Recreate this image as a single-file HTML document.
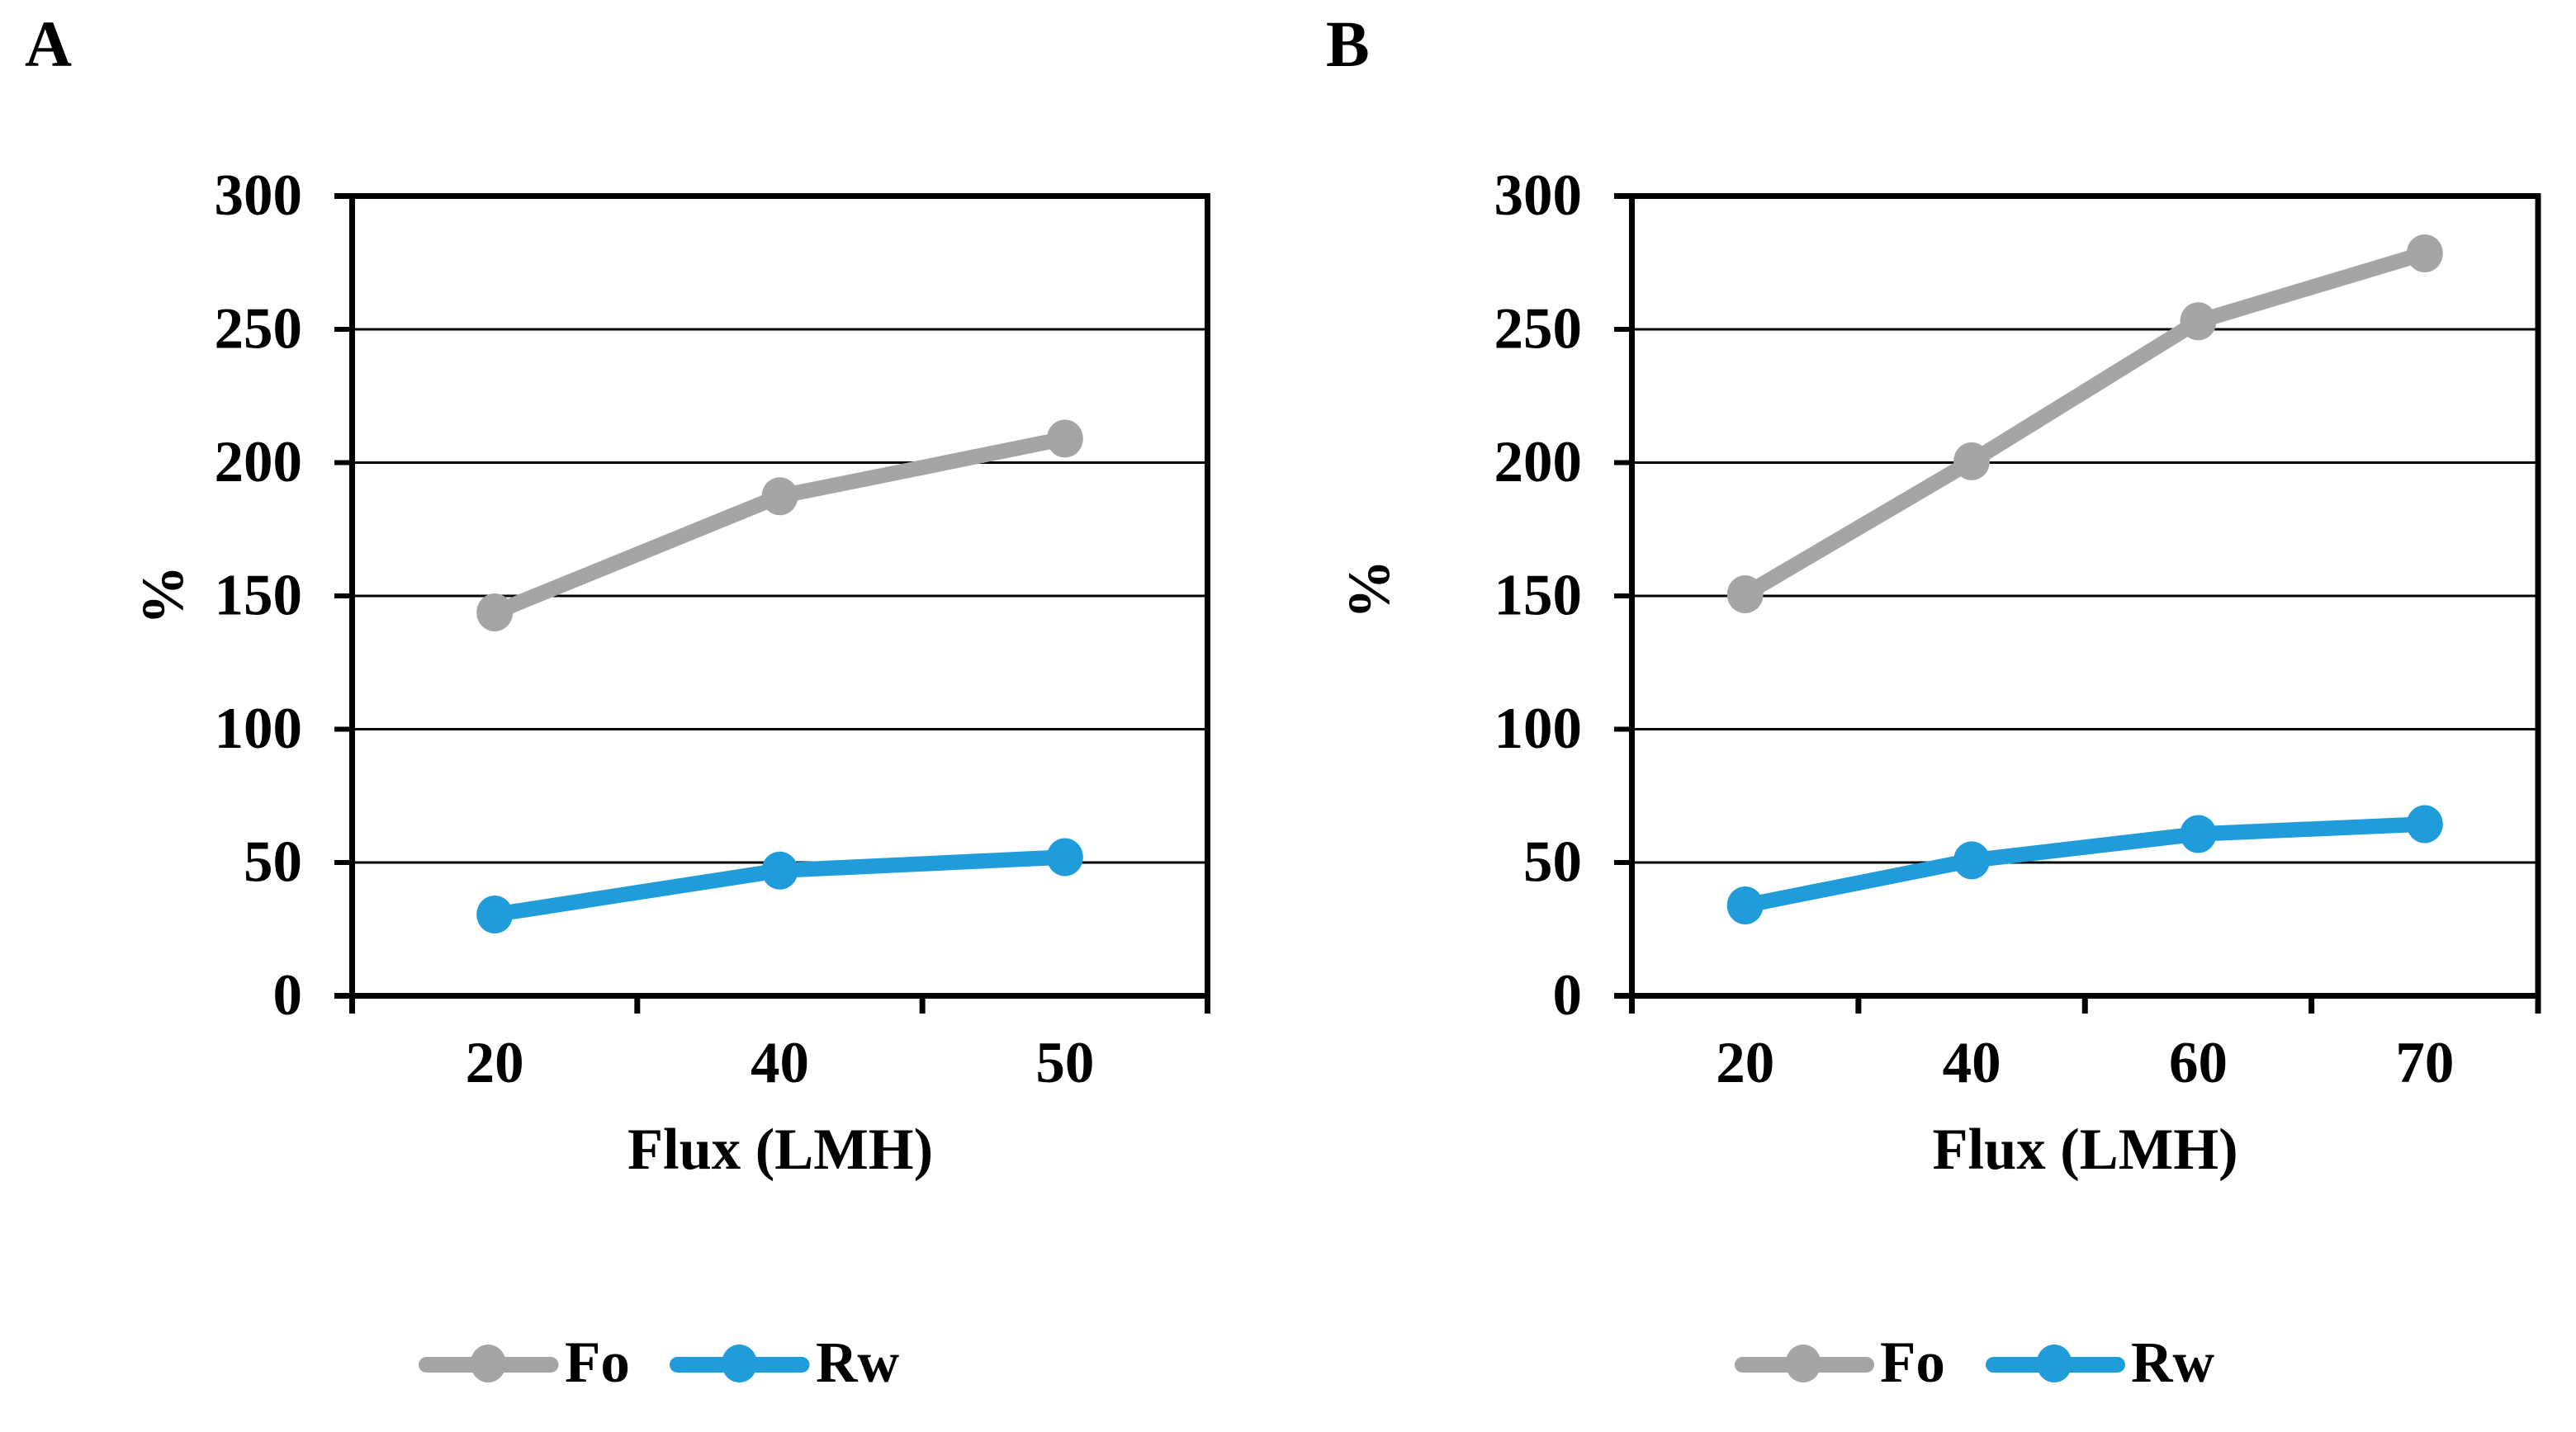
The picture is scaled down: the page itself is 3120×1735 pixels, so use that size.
<!DOCTYPE html>
<html lang="en">
<head>
<meta charset="utf-8">
<title>Fo and Rw versus flux</title>
<style>
html,body{margin:0;padding:0;background:#fff;}
svg{display:block;}
text{font-family:"Liberation Serif",serif;font-weight:bold;fill:#000;}
</style>
</head>
<body>
<svg id="figure" xmlns="http://www.w3.org/2000/svg" width="3120" height="1735" viewBox="0 0 3120 1735">
  <rect x="0" y="0" width="3120" height="1735" fill="#fff"/>
  <text x="30" y="80" font-size="79">A</text>
  <text x="1606" y="80" font-size="79">B</text>

  <g id="panel-a"></g>
  <g id="panel-b"></g>

  <text transform="translate(221 721) rotate(-90)" text-anchor="middle" font-size="72">%</text>
  <text transform="translate(1682 714) rotate(-90)" text-anchor="middle" font-size="72">%</text>
  <text x="945" y="1416" text-anchor="middle" font-size="70.5">Flux (LMH)</text>
  <text x="2525.5" y="1416" text-anchor="middle" font-size="70.5">Flux (LMH)</text>

  <g>
    <g>
      <line x1="516.5" y1="1653.5" x2="667" y2="1653.5" stroke="#a5a5a5" stroke-width="19" stroke-linecap="round"/>
      <ellipse cx="591.3" cy="1652" rx="21.5" ry="23" fill="#a5a5a5"/>
      <text x="684" y="1674" font-size="71">Fo</text>
    </g>
    <g>
      <line x1="820.5" y1="1653.5" x2="971" y2="1653.5" stroke="#1f9cd9" stroke-width="19" stroke-linecap="round"/>
      <ellipse cx="895.5" cy="1652" rx="21.5" ry="23" fill="#1f9cd9"/>
      <text x="988" y="1674" font-size="70">Rw</text>
    </g>
  </g>
  <g>
    <g>
      <line x1="2110.5" y1="1653.5" x2="2260.5" y2="1653.5" stroke="#a5a5a5" stroke-width="19" stroke-linecap="round"/>
      <ellipse cx="2184" cy="1652" rx="21.5" ry="23" fill="#a5a5a5"/>
      <text x="2277" y="1674" font-size="71">Fo</text>
    </g>
    <g>
      <line x1="2414.5" y1="1653.5" x2="2564.5" y2="1653.5" stroke="#1f9cd9" stroke-width="19" stroke-linecap="round"/>
      <ellipse cx="2488" cy="1652" rx="21.5" ry="23" fill="#1f9cd9"/>
      <text x="2581" y="1674" font-size="70">Rw</text>
    </g>
  </g>
</svg>
<script>
const yTickLabels = [0, 50, 100, 150, 200, 250, 300];
const categoriesA = ['20', '40', '50'];
const foValuesA = [143.8, 187.4, 209];
const rwValuesA = [30.5, 47, 52];
const categoriesB = ['20', '40', '60', '70'];
const foValuesB = [150.6, 200.5, 253, 278.5];
const rwValuesB = [33.9, 50.8, 60.7, 64.4];

const SVG_NS = 'http://www.w3.org/2000/svg';
const FO_COLOR = '#a5a5a5';
const RW_COLOR = '#1f9cd9';

function shape(parent, tag, attrs) {
  const el = document.createElementNS(SVG_NS, tag);
  for (const key in attrs) el.setAttribute(key, attrs[key]);
  parent.appendChild(el);
  return el;
}

function drawPanel(parent, frame, categories, foValues, rwValues) {
  const yMax = yTickLabels[yTickLabels.length - 1];
  const yScale = function (v) { return frame.bottom - (v / yMax) * (frame.bottom - frame.top); };
  const bandWidth = (frame.right - frame.left) / categories.length;
  const xScale = function (i) { return frame.left + bandWidth * (i + 0.5); };
  const boundary = function (i) { return frame.left + bandWidth * i; };

  yTickLabels.forEach(function (tick) {
    const y = yScale(tick);
    if (tick !== 0 && tick !== yMax) {
      const grid = shape(parent, 'line', { x1: frame.left, x2: frame.right, y1: y, y2: y, stroke: '#000', 'stroke-width': 3 });
      
      
    }
    const mark = shape(parent, 'line', { x1: frame.left - 21.5, x2: frame.left, y1: y, y2: y, stroke: '#000', 'stroke-width': tick === 0 || tick === yMax ? 7 : 6 });
    
    
    const label = shape(parent, 'text', { x: frame.left - 60.5, y: y + 22.5, 'text-anchor': 'end', 'font-size': 71 });
    label.textContent = tick;
    
    
  });

  categories.forEach(function (cat, i) {
    const label = shape(parent, 'text', { x: xScale(i), y: 1311, 'text-anchor': 'middle', 'font-size': 71 });
    label.textContent = cat;
    
    
  });
  for (let i = 0; i <= categories.length; i++) {
    const x = boundary(i);
    const mark = shape(parent, 'line', { x1: x, x2: x, y1: frame.bottom, y2: frame.bottom + 21.5, stroke: '#000', 'stroke-width': 7 });
    
    
  }

  const box = shape(parent, 'rect', {
    x: frame.left, y: frame.top, width: frame.right - frame.left, height: frame.bottom - frame.top,
    fill: 'none', stroke: '#000', 'stroke-width': 7
  });
  
  

  function drawSeries(values, color, name) {
    const pts = values.map(function (v, i) { return xScale(i) + ',' + yScale(v); }).join(' ');
    const line = shape(parent, 'polyline', { points: pts, fill: 'none', stroke: color, 'stroke-width': 18.5, 'stroke-linejoin': 'round' });
    
    
    values.forEach(function (v, i) {
      const dot = shape(parent, 'ellipse', { cx: xScale(i), cy: yScale(v), rx: 22, ry: 23, fill: color });
      
      
    });
  }
  drawSeries(foValues, FO_COLOR, 'fo');
  drawSeries(rwValues, RW_COLOR, 'rw');
}

drawPanel(document.getElementById('panel-a'), { left: 426.5, right: 1462.5, top: 237.5, bottom: 1206.5 }, categoriesA, foValuesA, rwValuesA);
drawPanel(document.getElementById('panel-b'), { left: 1976.5, right: 3074, top: 237.5, bottom: 1206.5 }, categoriesB, foValuesB, rwValuesB);
</script>
</body>
</html>
